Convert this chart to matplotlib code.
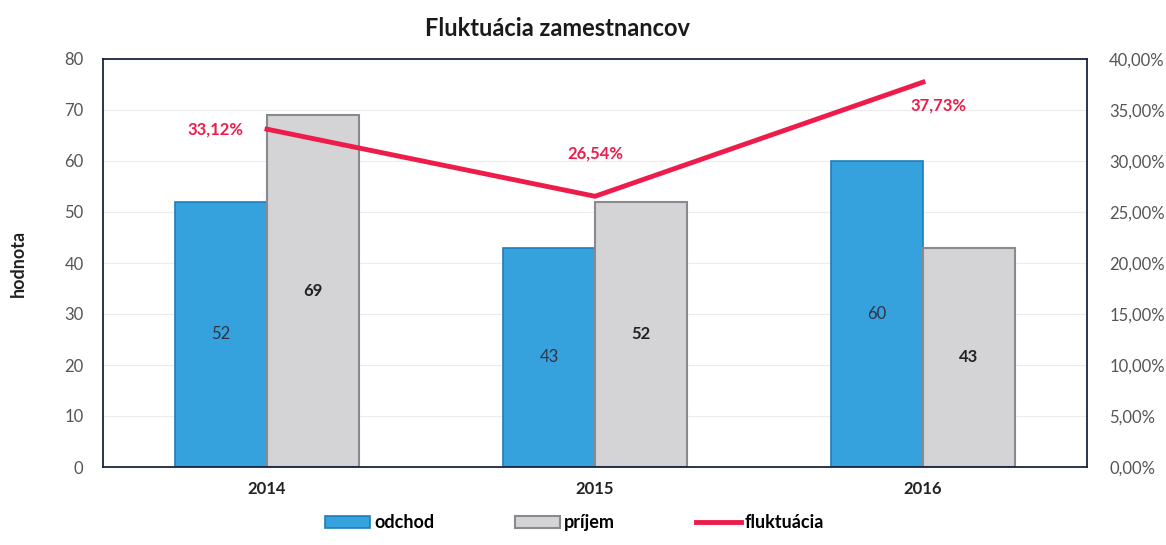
import matplotlib.pyplot as plt
import numpy as np
from matplotlib.ticker import FuncFormatter, MultipleLocator

plt.rcParams['font.family'] = ['Lato', 'DejaVu Sans']

years = ['2014', '2015', '2016']
odchod = [52, 43, 60]
prijem = [69, 52, 43]
fluktuacia = [33.12, 26.54, 37.73]
flukt_labels = ['33,12%', '26,54%', '37,73%']

fig = plt.figure(figsize=(11.66, 5.45), dpi=100)
ax = fig.add_axes([103 / 1166, 78 / 545, 984 / 1166, 408 / 545])
ax2 = ax.twinx()

x = np.arange(len(years))
w = 0.28
b1 = ax.bar(x - w / 2, odchod, w, color='#35a2de', edgecolor='#1f7fb8', linewidth=1.2, label='odchod', zorder=2)
b2 = ax.bar(x + w / 2, prijem, w, color='#d4d4d6', edgecolor='#8a8a8e', linewidth=1.5, label='príjem', zorder=2)

for i in range(len(years)):
    ax.text(x[i] - w / 2, odchod[i] / 2, str(odchod[i]), ha='center', va='center', fontsize=12, color='#333344')
    ax.text(x[i] + w / 2, prijem[i] / 2, str(prijem[i]), ha='center', va='center',
            fontsize=12, color='#222222', fontweight='bold')

ax.set_xlim(-0.5, 2.5)
ax.set_ylim(0, 80)
ax.yaxis.set_major_locator(MultipleLocator(10))
ax.set_xticks(x)
ax.set_xticklabels(years, fontsize=12, fontweight='bold', color='#222222')
ax.tick_params(axis='x', length=0, pad=10)
ax.tick_params(axis='y', length=0, labelsize=12, labelcolor='#555555', pad=14)
ax.grid(axis='y', color='#ececec', linewidth=0.8, zorder=0)
ax.set_axisbelow(True)
for s in ax.spines.values():
    s.set_color('#1a2440')
    s.set_linewidth(1.3)
ax.set_ylabel('hodnota', fontsize=13, fontweight='bold', color='#222222', labelpad=27)

line, = ax2.plot(x, np.array(fluktuacia) / 100, color='#ee1c4a', linewidth=3.5, label='fluktuácia', zorder=3)
ax2.set_ylim(0, 0.4)
ax2.yaxis.set_major_locator(MultipleLocator(0.05))
ax2.yaxis.set_major_formatter(FuncFormatter(lambda v, p: f'{v * 100:.2f}%'.replace('.', ',')))
ax2.tick_params(axis='y', length=0, labelsize=12, labelcolor='#555555', pad=16)
for s in ax2.spines.values():
    s.set_visible(False)

offsets = [(-37, 0), (0, 31), (11, -17)]
for i in range(len(years)):
    ax2.annotate(flukt_labels[i], (x[i], fluktuacia[i] / 100), xytext=offsets[i], textcoords='offset points',
                 ha='center', va='center', fontsize=12, fontweight='bold', color='#ee1c4a')

fig.suptitle('Fluktuácia zamestnancov', x=0.478, y=0.968, fontsize=17, fontweight='bold', color='#1a1a1a')

fig.legend([b1, b2, line], ['odchod', 'príjem', 'fluktuácia'], loc='lower center', bbox_to_anchor=(0.493, -0.005),
           ncol=3, frameon=False, columnspacing=4.5, handlelength=2.5, handletextpad=0.2,
           prop={'weight': 'bold', 'size': 13})

fig.savefig('out.png', dpi=100)
